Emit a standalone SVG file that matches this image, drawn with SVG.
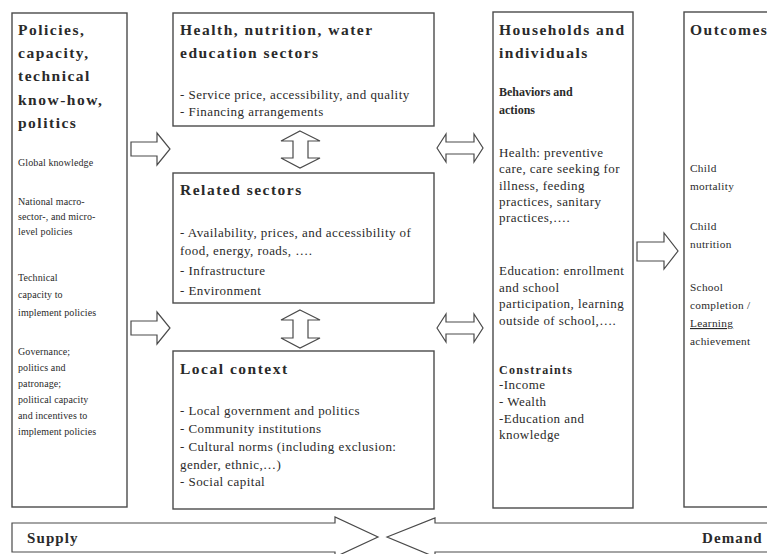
<svg xmlns="http://www.w3.org/2000/svg" width="767" height="554" viewBox="0 0 767 554">
<style>
.box{fill:#fff;stroke:#4a4a4a;stroke-width:1.4}
.arr{fill:#fff;stroke:#4a4a4a;stroke-width:1.2;stroke-linejoin:miter}
.t{font-family:"Liberation Serif","Times New Roman",serif;fill:#2a2a2a}
.h{font-weight:bold;font-size:15.5px;letter-spacing:1.5px}
.h2{font-weight:bold;font-size:12px}
.s{font-size:10px;letter-spacing:0.1px}
.o{font-size:11.3px;letter-spacing:0.3px}
.m{font-size:13px;letter-spacing:0.45px}
.big{font-weight:bold;font-size:15px;letter-spacing:1.1px}
</style>
<rect width="767" height="554" fill="#fff"/>
<g id="policies">
<rect class="box" x="12" y="13" width="115" height="494"/>
<text class="t h"><tspan x="18" y="35">Policies,</tspan><tspan x="18" y="58">capacity,</tspan><tspan x="18" y="81">technical</tspan><tspan x="18" y="105">know-how,</tspan><tspan x="18" y="128">politics</tspan></text>
<text class="t s"><tspan x="18" y="166">Global knowledge</tspan><tspan x="18" y="205">National macro-</tspan><tspan x="18" y="220">sector-, and micro-</tspan><tspan x="18" y="235">level policies</tspan><tspan x="18" y="281">Technical</tspan><tspan x="18" y="298">capacity to</tspan><tspan x="18" y="316">implement policies</tspan><tspan x="18" y="355">Governance;</tspan><tspan x="18" y="371">politics and</tspan><tspan x="18" y="387">patronage;</tspan><tspan x="18" y="403">political capacity</tspan><tspan x="18" y="419">and incentives to</tspan><tspan x="18" y="435">implement policies</tspan></text>
</g>
<g id="health">
<rect class="box" x="173" y="13" width="261" height="113"/>
<text class="t h"><tspan x="180" y="35">Health, nutrition,  water</tspan><tspan x="180" y="58">education sectors</tspan></text>
<text class="t m"><tspan x="180" y="99">- Service price, accessibility, and quality</tspan><tspan x="180" y="116">- Financing arrangements</tspan></text>
</g>
<g id="related">
<rect class="box" x="173" y="173" width="261" height="130"/>
<text class="t h" x="180" y="195">Related sectors</text>
<text class="t m"><tspan x="180" y="237">- Availability, prices, and accessibility of</tspan><tspan x="180" y="255">food, energy, roads, ….</tspan><tspan x="180" y="275">- Infrastructure</tspan><tspan x="180" y="295">- Environment</tspan></text>
</g>
<g id="local">
<rect class="box" x="173" y="351" width="261" height="158"/>
<text class="t h" x="180" y="374">Local context</text>
<text class="t m"><tspan x="180" y="415">- Local government and politics</tspan><tspan x="180" y="433">- Community institutions</tspan><tspan x="180" y="451">- Cultural norms (including exclusion:</tspan><tspan x="180" y="469">gender, ethnic,…)</tspan><tspan x="180" y="486">- Social capital</tspan></text>
</g>
<g id="households">
<rect class="box" x="493" y="12" width="140" height="496"/>
<text class="t h"><tspan x="499" y="35">Households and</tspan><tspan x="499" y="58">individuals</tspan></text>
<text class="t h2"><tspan x="499" y="96">Behaviors and</tspan><tspan x="499" y="114">actions</tspan></text>
<text class="t m"><tspan x="499" y="157">Health: preventive</tspan><tspan x="499" y="173">care, care seeking for</tspan><tspan x="499" y="190">illness, feeding</tspan><tspan x="499" y="206">practices, sanitary</tspan><tspan x="499" y="222">practices,….</tspan><tspan x="499" y="275">Education: enrollment</tspan><tspan x="499" y="292">and school</tspan><tspan x="499" y="308">participation, learning</tspan><tspan x="499" y="325">outside of school,….</tspan></text>
<text class="t h2" x="499" y="374" style="letter-spacing:1.3px">Constraints</text>
<text class="t m"><tspan x="499" y="389">-Income</tspan><tspan x="499" y="406">- Wealth</tspan><tspan x="499" y="423">-Education and</tspan><tspan x="499" y="439">knowledge</tspan></text>
</g>
<g id="outcomes">
<rect class="box" x="684" y="12" width="100" height="495"/>
<text class="t h" x="690" y="35">Outcomes</text>
<text class="t o"><tspan x="690" y="172">Child</tspan><tspan x="690" y="190">mortality</tspan><tspan x="690" y="230">Child</tspan><tspan x="690" y="248">nutrition</tspan><tspan x="690" y="291">School</tspan><tspan x="690" y="309">completion /</tspan><tspan x="690" y="327" text-decoration="underline">Learning</tspan><tspan x="690" y="345">achievement</tspan></text>
</g>
<g id="connectors">
<polygon class="arr" points="131,142 157,142 157,133 170,149 157,165 157,156 131,156"/>
<polygon class="arr" points="131,321 157,321 157,312 170,328 157,344 157,335 131,335"/>
<polygon class="arr" points="300,131 320,141 308,141 308,158 320,158 300,168 281,158 293,158 293,141 281,141"/>
<polygon class="arr" points="300,310 320,320 308,320 308,338 320,338 300,348 281,338 293,338 293,320 281,320"/>
<polygon class="arr" points="437,148 446,134 446,142 474,142 474,134 483,148 474,162 474,154 446,154 446,162"/>
<polygon class="arr" points="437,328 446,314 446,322 474,322 474,314 483,328 474,342 474,334 446,334 446,342"/>
<polygon class="arr" points="637,242 664,242 664,233 678,251 664,269 664,261 637,261"/>
</g>
<g id="supply">
<polygon class="arr" points="12,523 335,523 335,517 378,537 335,557 335,552 12,552"/>
<text class="t big" x="27" y="543">Supply</text>
</g>
<g id="demand">
<polygon class="arr" points="387,537 435,518 435,523 772,523 772,552 435,552 435,557"/>
<text class="t big" x="702" y="543">Demand</text>
</g>
</svg>
